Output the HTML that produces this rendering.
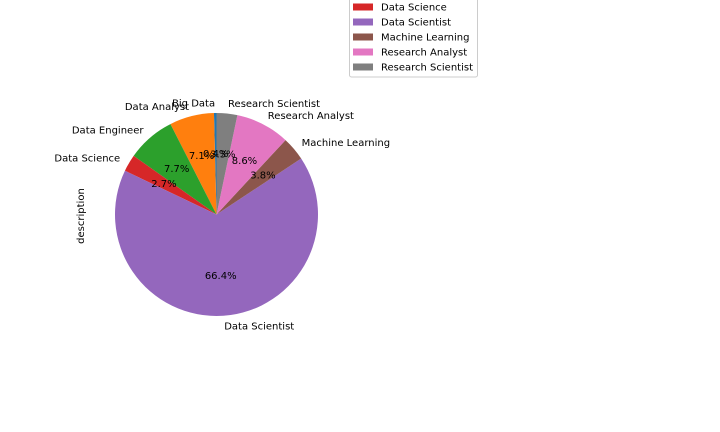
<!DOCTYPE html>
<html><head><meta charset="utf-8"><style>
body{margin:0;background:#fff;}
svg{display:block;font-family:"DejaVu Sans","Liberation Sans",sans-serif;}
</style></head><body>
<svg id="c" width="720" height="432" viewBox="0 0 720 432">
<text x="84" y="216" font-size="10" text-anchor="middle" transform="rotate(-90 84 216)">description</text>
<g id="slices"></g><g id="labels"></g><g id="legend"></g>
</svg>
<script>
const categories=["Big Data","Data Analyst","Data Engineer","Data Science","Data Scientist","Machine Learning","Research Analyst","Research Scientist"];
const values=[0.4,7.1,7.7,2.7,66.4,3.8,8.6,3.3];
const colors=["#1f77b4","#ff7f0e","#2ca02c","#d62728","#9467bd","#8c564b","#e377c2","#7f7f7f"];
const NS="http://www.w3.org/2000/svg";
const cx=216.5,cy=214.5,r=101.5;
const total=values.reduce((a,b)=>a+b,0);
const sg=document.getElementById('slices'),lg=document.getElementById('labels'),leg=document.getElementById('legend');
function pt(a,rr){return [cx+rr*Math.cos(a),cy-rr*Math.sin(a)];}
let ang=Math.PI/2;
values.forEach((v,i)=>{
  const sw=v/total*2*Math.PI,a0=ang,a1=ang+sw,mid=ang+sw/2;ang=a1;
  const p0=pt(a0,r),p1=pt(a1,r);
  const p=document.createElementNS(NS,'path');
  p.setAttribute('d',`M${cx},${cy}L${p0[0]},${p0[1]}A${r},${r} 0 ${sw>Math.PI?1:0} 0 ${p1[0]},${p1[1]}Z`);
  p.setAttribute('fill',colors[i]);
  
  
  sg.appendChild(p);
  const lp=pt(mid,r*1.1);
  const t=document.createElementNS(NS,'text');
  t.setAttribute('x',lp[0]);t.setAttribute('y',lp[1]+3.5);t.setAttribute('font-size','10');
  t.setAttribute('text-anchor',Math.cos(mid)>=0?'start':'end');
  t.textContent=categories[i];
  
  
  lg.appendChild(t);
  const pp=pt(mid,r*0.6);
  const q=document.createElementNS(NS,'text');
  q.setAttribute('x',pp[0]);q.setAttribute('y',pp[1]+3.5);q.setAttribute('font-size','10');
  q.setAttribute('text-anchor','middle');
  q.textContent=v.toFixed(1)+'%';
  
  
  lg.appendChild(q);
});
const box=document.createElementNS(NS,'rect');
box.setAttribute('x',349.5);box.setAttribute('y',-46);box.setAttribute('width',128);box.setAttribute('height',123);
box.setAttribute('rx',2);box.setAttribute('fill','#fff');box.setAttribute('stroke','#ccc');


leg.appendChild(box);
categories.forEach((c,i)=>{
  const y=-38+i*15;
  const s=document.createElementNS(NS,'rect');
  s.setAttribute('x',353);s.setAttribute('y',y-3.5);s.setAttribute('width',20);s.setAttribute('height',7);s.setAttribute('fill',colors[i]);
  
  
  leg.appendChild(s);
  const t=document.createElementNS(NS,'text');
  t.setAttribute('x',381);t.setAttribute('y',y+3.5);t.setAttribute('font-size','10');t.textContent=c;
  
  
  leg.appendChild(t);
});
</script>
</body></html>
